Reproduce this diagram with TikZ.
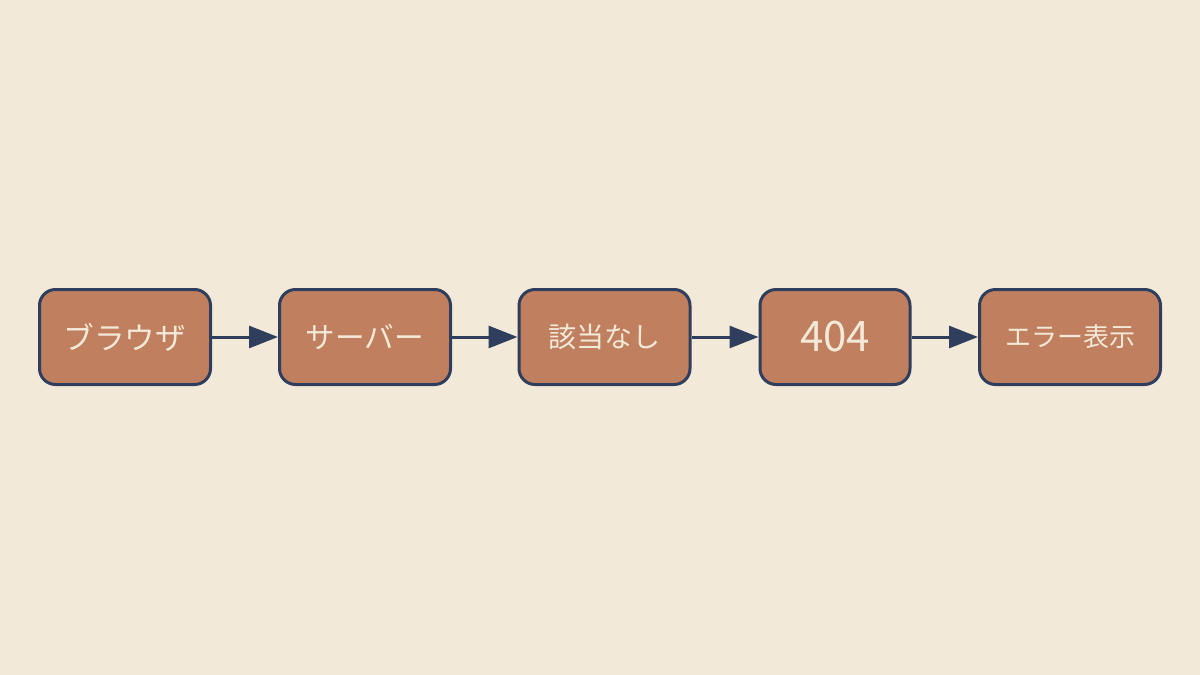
\documentclass[tikz,border=0pt]{standalone}
\usepackage{fontspec}
\setmainfont{Noto Sans CJK JP}
\usetikzlibrary{arrows.meta}
\definecolor{bg}{HTML}{F3E9D8}
\definecolor{boxfill}{HTML}{C07F5F}
\definecolor{edge}{HTML}{2E3E5C}
\definecolor{txt}{HTML}{F3E9D8}
\begin{document}
\begin{tikzpicture}[x=0.5pt,y=-0.5pt,
  stepbox/.style={draw=edge,fill=boxfill,line width=1.5pt,rounded corners=8pt,
    minimum height=47.5pt,inner sep=0pt,text=txt},
  conn/.style={draw=edge,line width=1.5pt,-{Triangle[length=14.5pt,width=11pt]}}]
\fill[bg] (0,0) rectangle (1200,675);
\useasboundingbox (0,0) rectangle (1200,675);
\node[stepbox,minimum width=85.5pt,font=\fontsize{15.3pt}{17pt}\selectfont] (b1) at (125,337) {ブラウザ};
\node[stepbox,minimum width=85.5pt,font=\fontsize{14.8pt}{17pt}\selectfont] (b2) at (365,337) {サーバー};
\node[stepbox,minimum width=85.5pt,font=\fontsize{14pt}{16pt}\selectfont] (b3) at (604.5,337) {該当なし};
\node[stepbox,minimum width=75pt,font=\fontsize{21pt}{23pt}\selectfont] (b4) at (835,337) {404};
\node[stepbox,minimum width=90.5pt,font=\fontsize{13pt}{15pt}\selectfont] (b5) at (1070,337) {エラー表示};
\draw[conn] (b1) -- (b2);
\draw[conn] (b2) -- (b3);
\draw[conn] (b3) -- (b4);
\draw[conn] (b4) -- (b5);
\end{tikzpicture}
\end{document}
